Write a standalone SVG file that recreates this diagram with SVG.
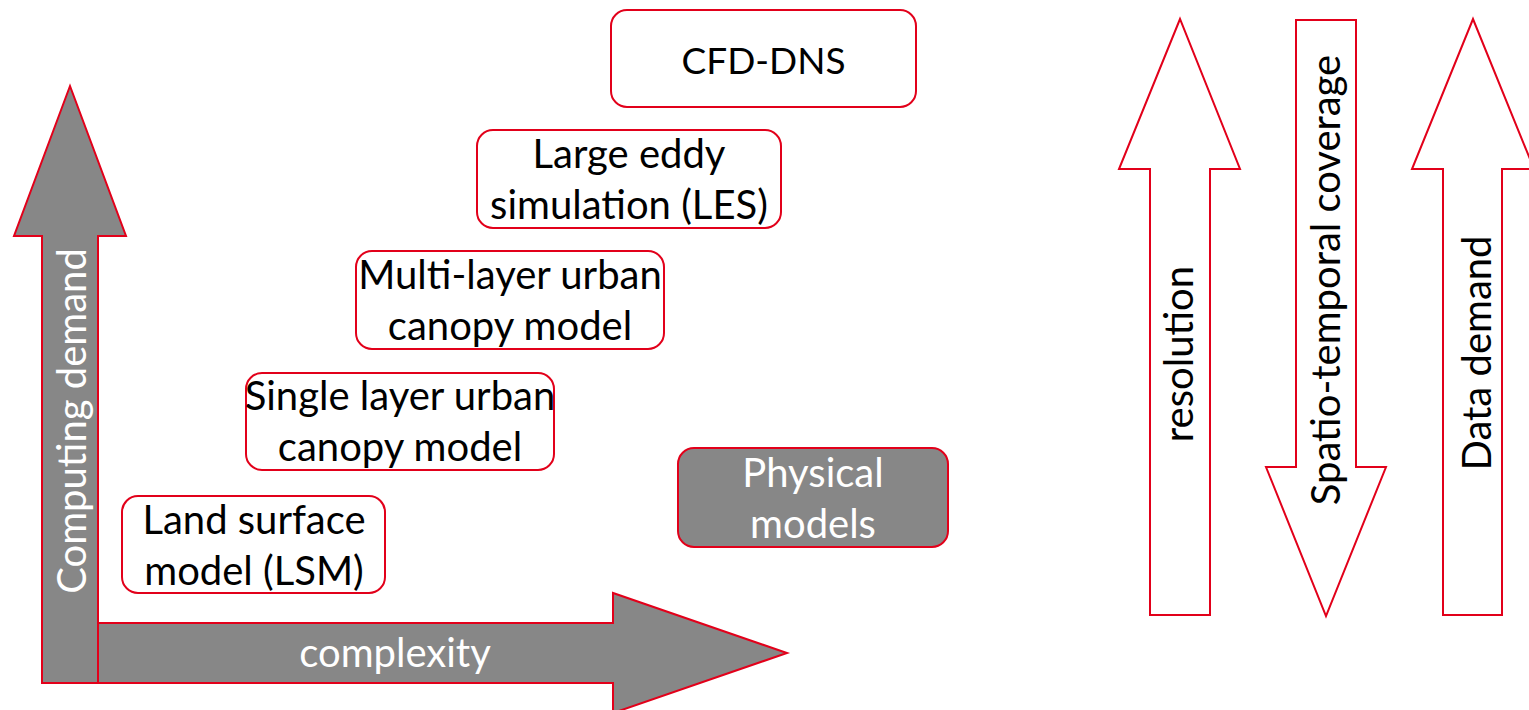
<svg xmlns="http://www.w3.org/2000/svg" width="1529" height="710" viewBox="0 0 1529 710">
<style>
.box{fill:#ffffff;stroke:#e2001a;stroke-width:2}
.gbox{fill:#878787;stroke:#e2001a;stroke-width:2}
.arr{fill:#ffffff;stroke:#e2001a;stroke-width:2;stroke-linejoin:miter}
.garr{fill:#878787;stroke:#e2001a;stroke-width:2;stroke-linejoin:miter}
text{font-family:Lato,"Open Sans","Liberation Sans",sans-serif;font-size:40px;text-anchor:middle}
.k{fill:#000000}
.w{fill:#ffffff}
.caps{font-size:37px}
</style>
<rect width="1529" height="710" fill="#ffffff"/>
<g id="connectors">
<g id="axis-complexity">
<polygon class="garr" points="88,623 613,623 613,593 787,653 613,713 613,683 88,683"/>
<text class="w" x="395" y="667">complexity</text>
</g>
<g id="axis-computing">
<polygon class="garr" points="42,683 42,236 14,236 70,86 126,236 98,236 98,683"/>
<text class="w" transform="translate(86,421) rotate(-90)">Computing demand</text>
</g>
<g id="arrow-resolution">
<polygon class="arr" points="1150,615 1150,169 1119,169 1180,19 1240,169 1210,169 1210,615"/>
<text class="k" transform="translate(1193,354) rotate(-90)">resolution</text>
</g>
<g id="arrow-coverage">
<polygon class="arr" points="1296,20 1356,20 1356,467 1386,467 1326,616 1266,467 1296,467"/>
<text class="k" transform="translate(1340,280) rotate(-90)">Spatio-temporal coverage</text>
</g>
<g id="arrow-data">
<polygon class="arr" points="1443,615 1443,169 1412,169 1473,19 1534,169 1502,169 1502,615"/>
<text class="k" transform="translate(1491,353) rotate(-90)">Data demand</text>
</g>
</g>
<g id="node-cfd">
<rect class="box" x="611" y="10" width="305" height="97" rx="16"/>
<text class="k caps" x="763.5" y="74">CFD-DNS</text>
</g>
<g id="node-les">
<rect class="box" x="477" y="130" width="304" height="98" rx="16"/>
<text class="k" x="629" y="168">Large eddy</text>
<text class="k" x="629" y="219">simulation (LES)</text>
</g>
<g id="node-multi">
<rect class="box" x="356" y="251" width="308" height="98" rx="16"/>
<text class="k" x="510" y="289">Multi-layer urban</text>
<text class="k" x="510" y="340">canopy model</text>
</g>
<g id="node-single">
<rect class="box" x="246" y="373" width="308" height="97" rx="16"/>
<text class="k" x="400" y="410">Single layer urban</text>
<text class="k" x="400" y="461">canopy model</text>
</g>
<g id="node-lsm">
<rect class="box" x="122" y="496" width="263" height="97" rx="16"/>
<text class="k" x="254" y="534">Land surface</text>
<text class="k" x="254" y="585">model (LSM)</text>
</g>
<g id="node-physical">
<rect class="gbox" x="678" y="448" width="270" height="99" rx="16"/>
<text class="w" x="813" y="487">Physical</text>
<text class="w" x="813" y="538">models</text>
</g>
</svg>
